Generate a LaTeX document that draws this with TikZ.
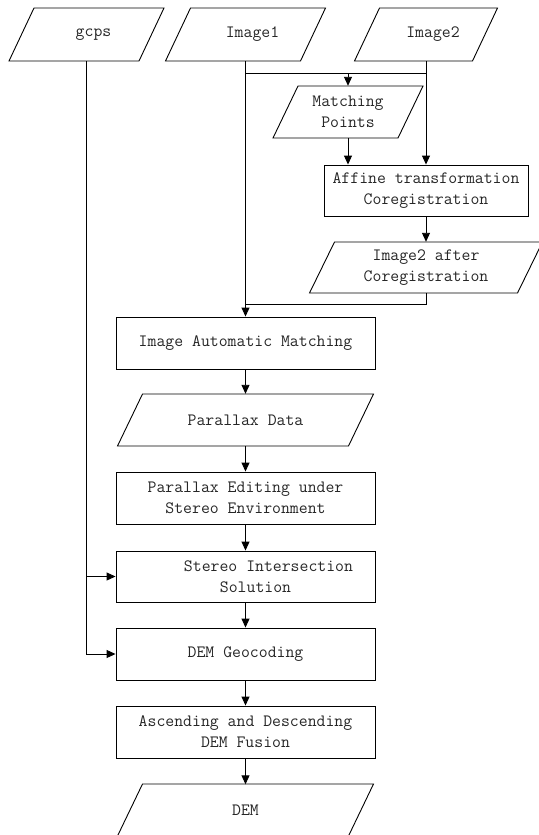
\documentclass[tikz,border=0pt]{standalone}
\usepackage{fontspec}
\usetikzlibrary{arrows.meta}
\tikzset{
  x=1pt, y=1pt,
  every node/.style={font=\ttfamily\fontsize{17.28}{21}\selectfont, text=black!85, align=center, inner sep=0pt},
  procbox/.style={draw, line width=0.9pt, minimum width=#1, minimum height=52},
  iobox/.style={minimum width=#1, minimum height=53},
  conn/.style={line width=0.9pt},
  arr/.style={conn, -{Triangle[length=9pt,width=8pt]}},
  slant/.style={line width=0.9pt, line join=miter}
}
% draw a parallelogram around node #1 with half mid-width #2 and half height #3
\newcommand\paradraw[3]{%
  \draw[slant] ([shift={(-#2+12.5,#3)}]#1.center) -- ([shift={(#2+12.5,#3)}]#1.center)
    -- ([shift={(#2-12.5,-#3)}]#1.center) -- ([shift={(-#2-12.5,-#3)}]#1.center) -- cycle;}
\begin{document}
\begin{tikzpicture}
\useasboundingbox (0,0) rectangle (538,-835);
% inputs
\node[iobox=130] (gcps) at (86.5,-34.5) {\hspace*{14pt}gcps};
\node[iobox=135] (img1) at (245.5,-34.5) {\hspace*{14pt}Image1};
\node[iobox=118] (img2) at (426,-34.5) {\hspace*{14pt}Image2};
\paradraw{gcps}{65}{26.5}
\paradraw{img1}{67.5}{26.5}
\paradraw{img2}{59}{26.5}
% coregistration branch
\node[iobox=125, minimum height=52] (mp) at (348,-112) {Matching\\Points};
\paradraw{mp}{62.5}{26}
\node[procbox=204, minimum height=51] (aff) at (426,-190.5) {Affine transformation\\Coregistration};
\node[iobox=208, minimum height=51] (i2a) at (426,-267.5) {Image2 after\\Coregistration};
\paradraw{i2a}{104}{25.5}
% main chain
\node[procbox=259] (iam) at (245.5,-343) {Image Automatic Matching};
\node[iobox=231, minimum height=52] (pd) at (245.5,-420) {Parallax Data};
\paradraw{pd}{115.5}{26}
\node[procbox=259] (edit) at (245.5,-498) {Parallax Editing under\\Stereo Environment};
\node[procbox=259, minimum height=51] (stereo) at (245.5,-576.5) {\hspace*{46pt}Stereo Intersection\\\hspace*{20pt}Solution};
\node[procbox=259] (geo) at (245.5,-654) {DEM Geocoding};
\node[procbox=259] (fus) at (245.5,-732) {Ascending and Descending\\DEM Fusion};
\node[iobox=231, minimum height=52] (dem) at (245.5,-810) {DEM};
\paradraw{dem}{115.5}{26}
% junction coordinates
\coordinate (h1) at (0,-73);
\coordinate (h2) at (0,-304);
% connectors
\draw[arr] (img1.south) -- (iam.north);
\draw[conn] (img1.south |- h1) -- (img2.south |- h1);
\draw[arr] (mp.north |- h1) -- (mp.north);
\draw[arr] (img2.south) -- (aff.north);
\draw[arr] (mp.south) -- (mp.south |- aff.north);
\draw[arr] (aff.south) -- (i2a.north);
\draw[conn] (i2a.south) |- (h2 -| iam.north);
\draw[arr] (iam) -- (pd);
\draw[arr] (pd) -- (edit);
\draw[arr] (edit) -- (stereo);
\draw[arr] (stereo) -- (geo);
\draw[arr] (geo) -- (fus);
\draw[arr] (fus.south) -- ([yshift=-0.5pt]dem.north);
\draw[arr] (gcps.south) |- (geo.west);
\draw[arr] (gcps.south |- stereo.west) -- (stereo.west);
\end{tikzpicture}
\end{document}
